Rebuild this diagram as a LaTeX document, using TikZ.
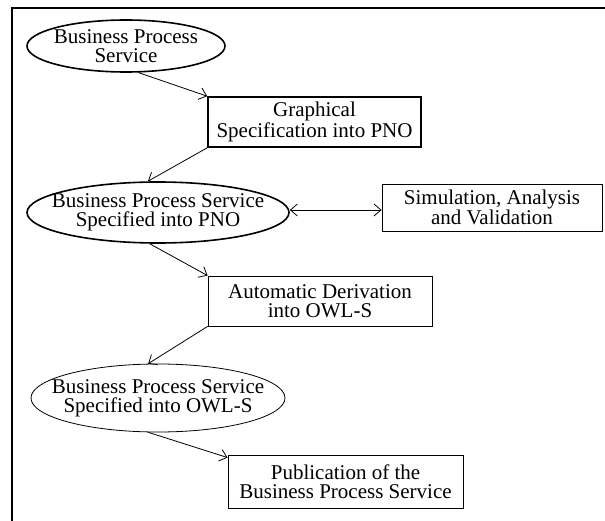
\documentclass[tikz,border=0pt]{standalone}
\usepackage{fontspec}
\setmainfont{Liberation Serif}
\usetikzlibrary{shapes.geometric,arrows.meta}
\begin{document}
\begin{tikzpicture}[x=1pt,y=-1pt,
  every node/.style={font=\fontsize{21}{19}\selectfont, align=center, inner sep=0pt},
  thickbox/.style={draw, rectangle, line width=1.6pt},
  thinbox/.style={draw, rectangle, line width=0.8pt},
  thickell/.style={draw, ellipse, line width=1.6pt},
  thinell/.style={draw, ellipse, line width=0.8pt},
  conn/.style={line width=0.8pt, -{Straight Barb[length=7pt,width=12pt]}},
  dconn/.style={line width=0.8pt, {Straight Barb[length=7pt,width=12pt]}-{Straight Barb[length=7pt,width=12pt]}}
]
\useasboundingbox (0,0) rectangle (605,521);
\coordinate (fr) at (605,8);
\coordinate (fc) at (12,8);
\coordinate (fb) at (12,521);
\draw[line width=1.8pt] (fr) -- (fc) -- (fb);

\node[thickell, minimum width=198pt, minimum height=52pt, label={center:Business Process\\Service}] (e1) at (126,46) {};
\node[thickbox, minimum width=213pt, minimum height=50pt] (b2) at (314.5,122) {Graphical\\Specification into PNO};
\node[thickell, minimum width=262pt, minimum height=61pt, label={center:Business Process Service\\Specified into PNO}] (e3) at (158,212.5) {};
\node[thinbox, minimum width=220pt, minimum height=47pt] (b4) at (492,207.5) {Simulation, Analysis\\and Validation};
\node[thinbox, minimum width=224pt, minimum height=50pt] (b5) at (320,301) {Automatic Derivation\\into OWL-S};
\node[thinell, minimum width=254pt, minimum height=68pt, label={center:Business Process Service\\Specified into OWL-S}] (e6) at (158,398) {};
\node[thinbox, minimum width=235pt, minimum height=53pt] (b7) at (345.5,481.5) {Publication of the\\Business Process Service};

\draw[conn] (e1.-65) -- (b2.north west);
\draw[conn] (b2.south west) -- (e3.108);
\draw[dconn] ([yshift=2.5pt]e3.east) -- ([yshift=2.5pt]e3.east -| b4.west);
\draw[conn] (e3.-105) -- (b5.north west);
\draw[conn] (b5.south west) -- (e6.106);
\draw[conn] (e6.-106) -- ([yshift=-3pt]b7.north west);
\end{tikzpicture}
\end{document}
